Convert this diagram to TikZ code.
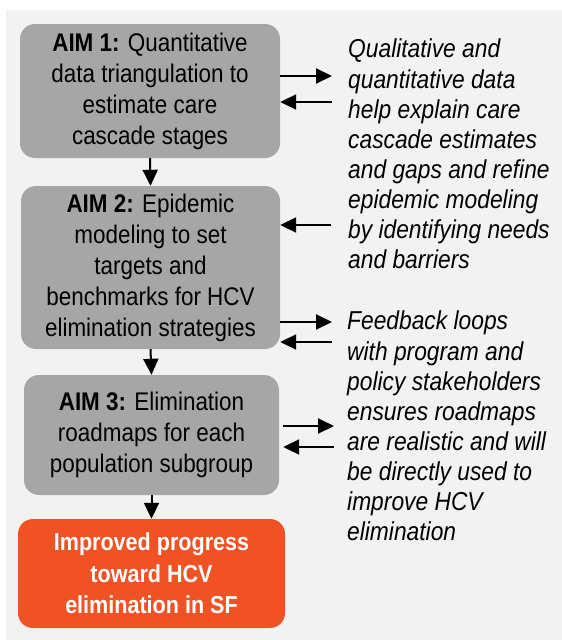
\documentclass[tikz,border=0pt]{standalone}
\usepackage{fontspec}
\setmainfont{Liberation Sans}
\newfontfamily\narrowfont[FakeStretch=0.88]{Liberation Sans}
\usetikzlibrary{arrows.meta}
\definecolor{panelgray}{HTML}{F2F2F2}
\definecolor{aimgray}{HTML}{A6A6A6}
\definecolor{goalorange}{HTML}{F05223}

\begin{document}
\begin{tikzpicture}[x=1pt,y=-1pt,
  aimbox/.style={fill=aimgray, rounded corners=15pt, align=center, inner sep=0pt,
    font=\narrowfont\fontsize{25.5}{31}\selectfont},
  goalbox/.style={aimbox, fill=goalorange, text=white,
    font=\narrowfont\bfseries\fontsize{24.5}{31.5}\selectfont},
  note/.style={anchor=north west, align=left, inner sep=0pt,
    font=\narrowfont\itshape\fontsize{25.9}{30.1}\selectfont},
  link/.style={line width=2pt, -{Triangle[length=16pt,width=15pt]}}]
\useasboundingbox (0,0) rectangle (562,640);
\fill[panelgray] (6,10) rectangle (562,640);

% the three aims and the goal
\node[aimbox, minimum width=260pt, minimum height=134pt] (aim1) at (150,91)
  {\textbf{AIM 1:} Quantitative\\data triangulation to\\estimate care\\cascade stages};
\node[aimbox, minimum width=259pt, minimum height=163pt] (aim2) at (150.5,267.5)
  {\textbf{AIM 2:} Epidemic\\modeling to set\\targets and\\benchmarks for HCV\\elimination strategies};
\node[aimbox, minimum width=255pt, minimum height=120pt] (aim3) at (151.5,435)
  {\textbf{AIM 3:} Elimination\\roadmaps for each\\population subgroup};
\node[goalbox, minimum width=267pt, minimum height=109pt] (goal) at (151.5,573.5)
  {Improved progress\\toward HCV\\elimination in SF};

\draw[link] (aim1.south) -- (aim2.north);
\draw[link] (aim2.south) -- (aim3.north);
\draw[link] (aim3.south) -- (goal.north);

% notes on the right
\node[note] (mixed) at (348,39)
  {Qualitative and\\quantitative data\\help explain care\\cascade estimates\\and gaps and refine\\epidemic modeling\\by identifying needs\\and barriers};
\node[note] (loops) at (347,311)
  {Feedback loops\\with program and\\policy stakeholders\\ensures roadmaps\\are realistic and will\\be directly used to\\improve HCV\\elimination};

\coordinate (r1) at (332,76);
\coordinate (l1) at (332,102);
\coordinate (l2) at (331,225);
\coordinate (r3) at (332,322);
\coordinate (l3) at (332,342);
\coordinate (r4) at (334,426);
\coordinate (l4) at (334,447);
\draw[link] (aim1.east |- r1) -- (r1);
\draw[link] (l1) -- (aim1.east |- l1);
\draw[link] (l2) -- (aim2.east |- l2);
\draw[link] (aim2.east |- r3) -- (r3);
\draw[link] (l3) -- (aim2.east |- l3);
\draw[link] ([xshift=4pt]aim3.east |- r4) -- (r4);
\draw[link] (l4) -- ([xshift=4pt]aim3.east |- l4);
\end{tikzpicture}
\end{document}
